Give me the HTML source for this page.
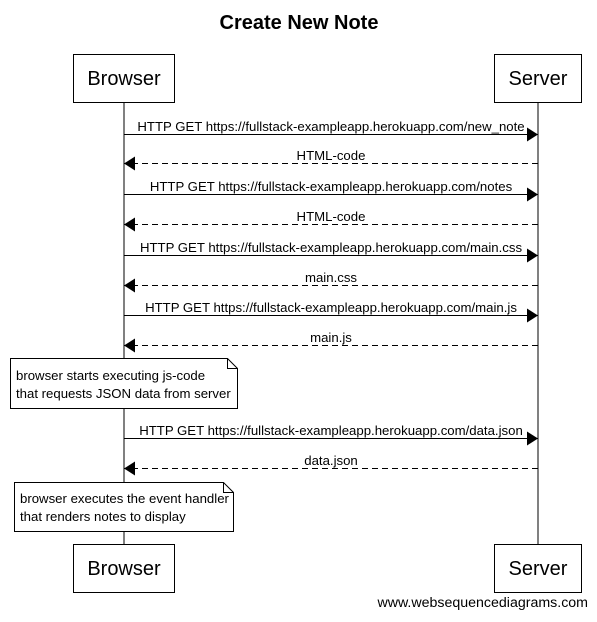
<!DOCTYPE html>
<html><head><style>body{margin:0;background:#fff}</style></head><body>
<svg width="597" height="617" xmlns="http://www.w3.org/2000/svg" font-family="Liberation Sans, Arial, sans-serif">
<defs>
<marker id="a" markerWidth="12" markerHeight="14" refX="11" refY="7" orient="auto" markerUnits="userSpaceOnUse"><path d="M0,0 L11,7 L0,14 z" fill="#000"/></marker>
</defs>
<rect width="597" height="617" fill="#fff"/>
<text x="299" y="29" font-size="20" font-weight="bold" text-anchor="middle">Create New Note</text>
<line x1="124" y1="102" x2="124" y2="544" stroke="#000"/>
<line x1="538" y1="102" x2="538" y2="544" stroke="#000"/>
<g fill="#fff" stroke="#000">
<rect x="73.5" y="54.5" width="101" height="48"/>
<rect x="494.5" y="54.5" width="87" height="48"/>
<rect x="73.5" y="544.5" width="101" height="48"/>
<rect x="494.5" y="544.5" width="87" height="48"/>
</g>
<g font-size="20" text-anchor="middle">
<text x="124" y="85">Browser</text><text x="538" y="85">Server</text>
<text x="124" y="575">Browser</text><text x="538" y="575">Server</text>
</g>
<g stroke="#000" fill="none">
<line x1="124" y1="134.5" x2="538" y2="134.5" marker-end="url(#a)"/>
<line x1="538" y1="163.5" x2="124" y2="163.5" stroke-dasharray="6,4" marker-end="url(#a)"/>
<line x1="124" y1="194.5" x2="538" y2="194.5" marker-end="url(#a)"/>
<line x1="538" y1="224.5" x2="124" y2="224.5" stroke-dasharray="6,4" marker-end="url(#a)"/>
<line x1="124" y1="255.5" x2="538" y2="255.5" marker-end="url(#a)"/>
<line x1="538" y1="285.5" x2="124" y2="285.5" stroke-dasharray="6,4" marker-end="url(#a)"/>
<line x1="124" y1="315.5" x2="538" y2="315.5" marker-end="url(#a)"/>
<line x1="538" y1="345.5" x2="124" y2="345.5" stroke-dasharray="6,4" marker-end="url(#a)"/>
<line x1="124" y1="438.5" x2="538" y2="438.5" marker-end="url(#a)"/>
<line x1="538" y1="468.5" x2="124" y2="468.5" stroke-dasharray="6,4" marker-end="url(#a)"/>
</g>
<g font-size="13.2" text-anchor="middle">
<text x="331" y="131">HTTP GET https://fullstack-exampleapp.herokuapp.com/new_note</text>
<text x="331" y="160">HTML-code</text>
<text x="331" y="191">HTTP GET https://fullstack-exampleapp.herokuapp.com/notes</text>
<text x="331" y="221">HTML-code</text>
<text x="331" y="252">HTTP GET https://fullstack-exampleapp.herokuapp.com/main.css</text>
<text x="331" y="282">main.css</text>
<text x="331" y="312">HTTP GET https://fullstack-exampleapp.herokuapp.com/main.js</text>
<text x="331" y="342">main.js</text>
<text x="331" y="435">HTTP GET https://fullstack-exampleapp.herokuapp.com/data.json</text>
<text x="331" y="465">data.json</text>
</g>
<g fill="#fff" stroke="#000">
<path d="M10.5,358.5 H227.5 L237.5,368.5 V408.5 H10.5 z"/>
<path d="M227.5,358.5 V368.5 H237.5" fill="none"/>
<path d="M14.5,482.5 H223.5 L233.5,492.5 V531.5 H14.5 z"/>
<path d="M223.5,482.5 V492.5 H233.5" fill="none"/>
</g>
<g font-size="13.2">
<text x="16" y="380">browser starts executing js-code</text>
<text x="16" y="398">that requests JSON data from server</text>
<text x="20" y="503">browser executes the event handler</text>
<text x="20" y="521">that renders notes to display</text>
</g>
<text x="588" y="607" font-size="14.2" text-anchor="end">www.websequencediagrams.com</text>
</svg>
</body></html>
